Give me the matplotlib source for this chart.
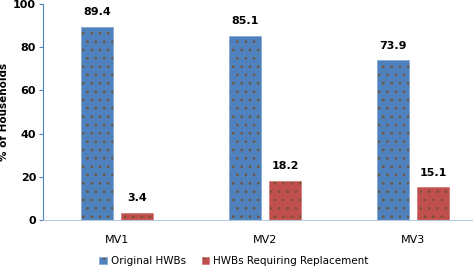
import numpy as np
import matplotlib
matplotlib.use('Agg')
import matplotlib.pyplot as plt

categories = ['MV1', 'MV2', 'MV3']
original = [89.4, 85.1, 73.9]
replacement = [3.4, 18.2, 15.1]
series_names = ['Original HWBs', 'HWBs Requiring Replacement']

plt.rcParams['hatch.linewidth'] = 0.6
fig = plt.figure(figsize=(4.73, 2.67), dpi=100)
# plot area runs past the right edge, as in the cropped original
ax = fig.add_axes([43/473, 47/267, 444/473, 216/267])

x = np.arange(len(categories))
w = 0.216
off = 0.135
b1 = ax.bar(x - off, original, w, color='#4F81BD', edgecolor='#7fa5d5', linewidth=0.5,
            hatch='..', label=series_names[0])
b2 = ax.bar(x + off, replacement, w, color='#C0504D', edgecolor='#d07370', linewidth=0.5,
            hatch='..', label=series_names[1])
for bars in (b1, b2):
    for b in bars:
        b._hatch_color = (0.45, 0.33, 0.2, 1)
for bars, vals in ((b1, original), (b2, replacement)):
    for b, v in zip(bars, vals):
        ax.text(b.get_x() + b.get_width()/2, v + 4.5, f'{v:.1f}', ha='center', va='bottom',
                fontsize=8, fontweight='bold', family='DejaVu Sans')

ax.set_xlim(-0.5, 2.5)
ax.set_ylim(0, 100)
ax.set_yticks(range(0, 101, 20))
ax.set_xticks(x)
ax.set_xticklabels(categories, fontsize=8)
ax.tick_params(axis='x', length=0, pad=11)
ax.tick_params(axis='y', length=3, color='#4F81BD', labelsize=8, pad=2)
for lab in ax.get_yticklabels():
    lab.set_fontweight('bold')
ax.set_ylabel('% of Households', fontsize=7.5, fontweight='bold', labelpad=3)
for s in ('top', 'right'):
    ax.spines[s].set_visible(False)
ax.spines['left'].set_color('#4F81BD')
ax.spines['bottom'].set_color('#b9c9de')

ax.legend(loc='center', bbox_to_anchor=(0.43, -0.19), ncol=2, frameon=False,
          fontsize=7.5, handlelength=0.7, handleheight=0.7, columnspacing=1.5, handletextpad=0.4)

fig.savefig('out.png', dpi=100)
